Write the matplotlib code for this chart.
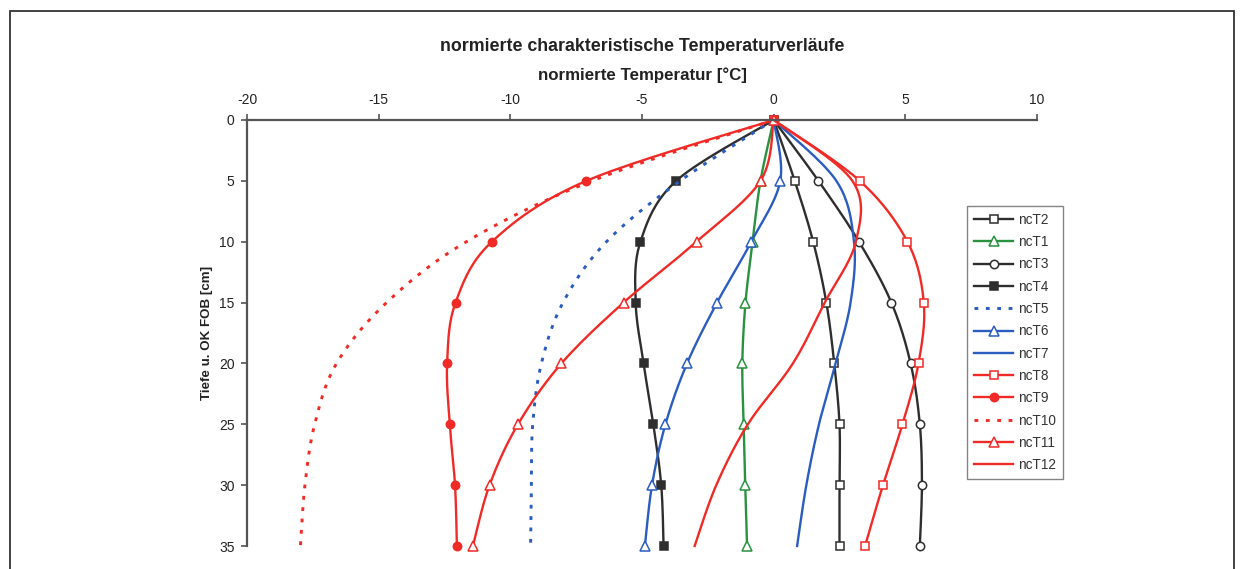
import numpy as np
import matplotlib
matplotlib.use("Agg")
import matplotlib.pyplot as plt
from matplotlib.patches import Rectangle

plt.rcParams['font.family'] = ['Liberation Sans', 'DejaVu Sans']
plt.rcParams['axes.unicode_minus'] = False

# depth below top of surface [cm]
depth = [0, 5, 10, 15, 20, 25, 30, 35]

# normalised temperatures [°C]
ncT2 = [0, 0.8, 1.5, 2.0, 2.3, 2.5, 2.5, 2.5]
ncT1 = [0, -0.5, -0.8, -1.07, -1.19, -1.14, -1.08, -1.01]
ncT3 = [0, 1.7, 3.24, 4.47, 5.2, 5.55, 5.63, 5.55]
ncT4 = [0, -3.7, -5.06, -5.24, -4.94, -4.57, -4.27, -4.18]
ncT5 = [0, -3.55, -6.35, -8.0, -8.82, -9.15, -9.2, -9.23]
ncT6 = [0, 0.25, -0.85, -2.15, -3.29, -4.11, -4.62, -4.89]
ncT7 = [0, 2.38, 3.05, 2.92, 2.35, 1.72, 1.24, 0.89]
ncT8 = [0, 3.27, 5.08, 5.7, 5.5, 4.89, 4.15, 3.47]
ncT9 = [0, -7.11, -10.7, -12.08, -12.4, -12.3, -12.1, -12.03]
ncT10 = [0, -6.9, -11.67, -14.7, -16.6, -17.43, -17.8, -17.97]
ncT11 = [0, -0.5, -2.93, -5.7, -8.06, -9.71, -10.79, -11.42]
ncT12 = [0, 2.99, 3.12, 1.94, 0.73, -0.98, -2.18, -3.0]

series_names = ['ncT2', 'ncT1', 'ncT3', 'ncT4', 'ncT5', 'ncT6',
                'ncT7', 'ncT8', 'ncT9', 'ncT10', 'ncT11', 'ncT12']
series_values = [ncT2, ncT1, ncT3, ncT4, ncT5, ncT6,
                 ncT7, ncT8, ncT9, ncT10, ncT11, ncT12]

BLACK = '#2e2e2e'
GREEN = '#2a9140'
BLUE = '#2b5cbf'
RED = '#f02a26'

# (colour, linestyle, marker, marker face)
styles = {
    'ncT2': (BLACK, '-', 's', 'white'),
    'ncT1': (GREEN, '-', '^', 'white'),
    'ncT3': (BLACK, '-', 'o', 'white'),
    'ncT4': (BLACK, '-', 's', BLACK),
    'ncT5': (BLUE, (0, (1.3, 2.6)), None, None),
    'ncT6': (BLUE, '-', '^', 'white'),
    'ncT7': (BLUE, '-', None, None),
    'ncT8': (RED, '-', 's', 'white'),
    'ncT9': (RED, '-', 'o', RED),
    'ncT10': (RED, (0, (1.3, 2.6)), None, None),
    'ncT11': (RED, '-', '^', 'white'),
    'ncT12': (RED, '-', None, None),
}


def smooth(xs, ys, n=20):
    """Excel-like smoothed line: bezier segments through every point.
    Returns the curve and the indices where the original points sit."""
    p = np.column_stack([xs, ys]).astype(float)
    ext = np.vstack([p[0], p, p[-1]])
    t = np.linspace(0, 1, n, endpoint=False)[:, None]
    pieces, idx = [], []
    for i in range(len(p) - 1):
        p0, p1, p2, p3 = ext[i], ext[i + 1], ext[i + 2], ext[i + 3]
        b1 = p1 + (p2 - p0) / 6.
        b2 = p2 - (p3 - p1) / 6.
        seg = ((1 - t) ** 3 * p1 + 3 * (1 - t) ** 2 * t * b1
               + 3 * (1 - t) * t ** 2 * b2 + t ** 3 * p2)
        idx.append(i * n)
        pieces.append(seg)
    pieces.append(p[-1:])
    idx.append(len(p[:-1]) * n)
    curve = np.vstack(pieces)
    return curve[:, 0], curve[:, 1], idx


fig = plt.figure(figsize=(12.44, 5.69), dpi=100)
ax = fig.add_axes([247 / 1244, 1 - 546 / 569, 790 / 1244, 426 / 569])

for name, vals in zip(series_names, series_values):
    color, ls, marker, face = styles[name]
    cx, cy, idx = smooth(vals, depth)
    ax.plot(cx, cy, color=color, linestyle=ls, lw=1.7 if ls == '-' else 2.1,
            marker=marker, markevery=idx, markersize=6 if marker != '^' else 6.5,
            markerfacecolor=face, markeredgecolor=color, markeredgewidth=1.1,
            label=name, clip_on=False)

ax.set_xlim(-20, 10)
ax.set_ylim(35, 0)
ax.set_xticks(np.arange(-20, 11, 5))
ax.set_yticks(np.arange(0, 36, 5))
ax.xaxis.tick_top()
ax.xaxis.set_label_position('top')
for side in ['right', 'bottom']:
    ax.spines[side].set_visible(False)
for side in ['left', 'top']:
    ax.spines[side].set_color('#555555')
    ax.spines[side].set_linewidth(1.6)
ax.tick_params(axis='both', direction='out', length=4, width=1.2, color='#555555',
               labelsize=10, labelcolor='#222222', pad=5)

ax.set_xlabel('normierte Temperatur [°C]', fontsize=12.2, fontweight='bold',
              color='#222222', labelpad=10)
ax.set_title('normierte charakteristische Temperaturverläufe', fontsize=12.8,
             fontweight='bold', color='#222222', pad=50)
ax.set_ylabel('Tiefe u. OK FOB [cm]', fontsize=9.6, fontweight='bold',
              color='#222222', labelpad=4)

leg = ax.legend(loc='upper left', bbox_to_anchor=(967 / 1244, 1 - 206 / 569),
                bbox_transform=fig.transFigure, frameon=True, fancybox=False,
                edgecolor='#666666', fontsize=9.8, handlelength=2.9,
                labelspacing=0.61, handletextpad=0.35, borderpad=0.5,
                borderaxespad=0)
leg.get_frame().set_linewidth(1.0)
for txt in leg.get_texts():
    txt.set_color('#333333')

# outer frame of the figure
fig.patches.append(Rectangle((10 / 1244, -0.05), 1224 / 1244, 1.05 - 11 / 569,
                             transform=fig.transFigure, fill=False,
                             edgecolor='#333333', lw=1.3))

fig.savefig('out.png', dpi=100)
